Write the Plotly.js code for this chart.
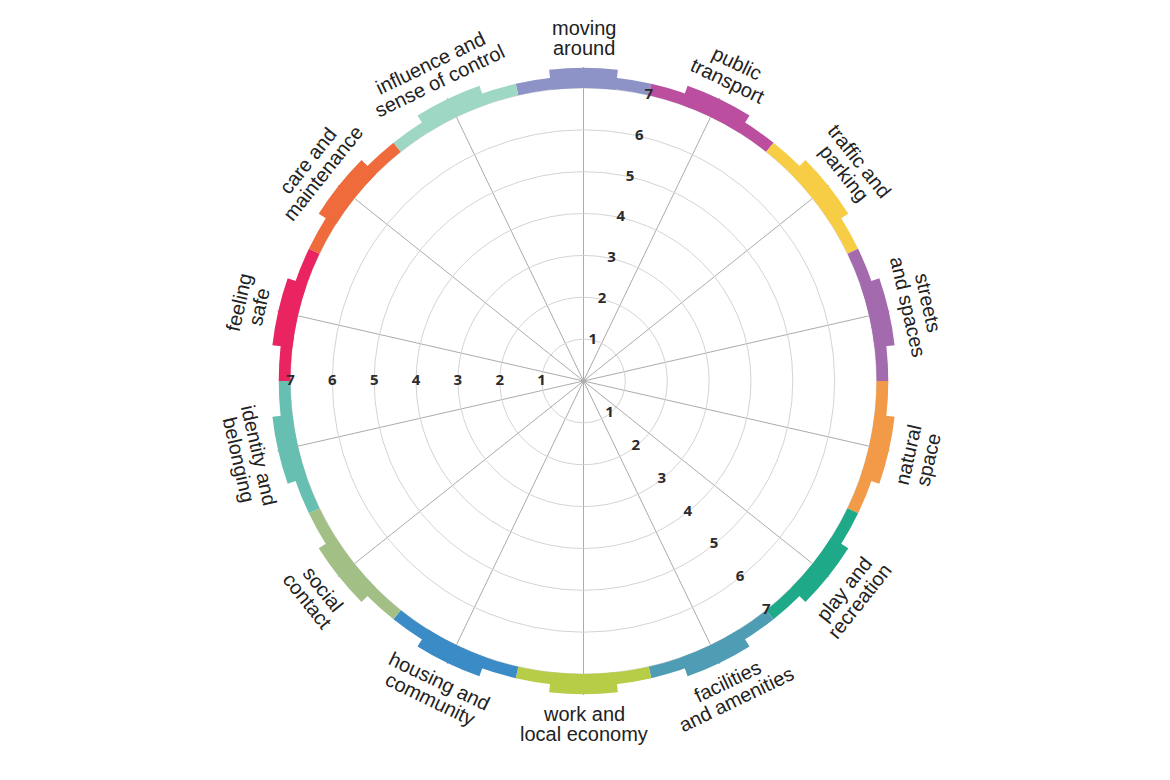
<!DOCTYPE html>
<html>
<head>
<meta charset="utf-8">
<script src="https://cdn.plot.ly/plotly-3.0.1.min.js"></script>
<style>html,body{margin:0;padding:0;background:#fff;}#chart{width:1170px;height:780px;}</style>
</head>
<body>
<div id="chart"></div>
<script>
// ---- data ----
const categories = [
  "moving around", "public transport", "traffic and parking", "streets and spaces",
  "natural space", "play and recreation", "facilities and amenities", "work and local economy",
  "housing and community", "social contact", "identity and belonging", "feeling safe",
  "care and maintenance", "influence and sense of control"
];
const labelLines = [
  ["moving", "around"], ["public", "transport"], ["traffic and", "parking"], ["streets", "and spaces"],
  ["natural", "space"], ["play and", "recreation"], ["facilities", "and amenities"], ["work and", "local economy"],
  ["housing and", "community"], ["social", "contact"], ["identity and", "belonging"], ["feeling", "safe"],
  ["care and", "maintenance"], ["influence and", "sense of control"]
];
const colors = [
  "#8e93c7", "#bb4e9f", "#f8cd46", "#a46aae", "#f29a47", "#1eaa88", "#4e9db4",
  "#b8cd47", "#3b8bc7", "#a2bf85", "#66bfb0", "#e92461", "#ef6b3b", "#9ed8c5"
];
const radialTicks = [1, 2, 3, 4, 5, 6, 7];
const scaleMax = 7;

// ---- geometry / style ----
const W = 1170, H = 780;
const CX = 583.5, CY = 381, RPX = 314;   // polar centre and radius (px) for range max
const RMAX = 7.5;
const n = categories.length;
const step = 360 / n;
const thetaCenters = categories.map((_, i) => i * step);
const tickThetas = [step / 2, 270, 5.5 * step];   // boundaries carrying radial tick labels

const traces = [];
// thin ring band
traces.push({
  type: "barpolar", theta: thetaCenters, r: categories.map(() => 0.28), base: scaleMax,
  width: categories.map(() => step), marker: {color: colors, line: {width: 0}},
  hoverinfo: "skip", showlegend: false
});
// raised tab in each sector
traces.push({
  type: "barpolar", theta: thetaCenters, r: categories.map(() => 0.48), base: scaleMax,
  width: categories.map(() => step * 0.49), marker: {color: colors, line: {width: 0}},
  hoverinfo: "skip", showlegend: false
});
// radial tick labels
tickThetas.forEach(t => {
  traces.push({
    type: "scatterpolar", mode: "text", theta: radialTicks.map(() => t), r: radialTicks,
    text: radialTicks.map(String),
    textfont: {family: "Open Sans", size: 15, color: "#2b2b2b", weight: 700},
    hoverinfo: "skip", showlegend: false, cliponaxis: false
  });
});

// category labels, rotated tangentially
const annotations = [];
const LR = 343, LH = 20, FS = 20;
categories.forEach((c, i) => {
  const a = 90 - thetaCenters[i];             // math angle, degrees
  const ar = a * Math.PI / 180;
  const s = Math.sin(ar);
  let ta;
  if (s > 1e-6) ta = 90 - a; else ta = -(90 + a);
  if (Math.abs(s) < 1e-6) ta = 0;
  const bx = CX + LR * Math.cos(ar), by = CY - LR * Math.sin(ar);
  const t = ta * Math.PI / 180;
  const dx = -Math.sin(t), dy = Math.cos(t);   // screen "down" vector of rotated text
  const lines = labelLines[i];
  lines.forEach((ln, k) => {
    const off = (k - (lines.length - 1) / 2) * LH;
    const px = bx + dx * off, py = by + dy * off;
    annotations.push({
      xref: "paper", yref: "paper", x: px / W, y: 1 - py / H,
      xanchor: "center", yanchor: "middle", showarrow: false,
      text: ln, textangle: ta,
      font: {family: "Liberation Sans, Arial, sans-serif", size: FS, color: "#222"}
    });
  });
});

const layout = {
  width: W, height: H, margin: {l: 0, r: 0, t: 0, b: 0},
  paper_bgcolor: "#fff", showlegend: false,
  polar: {
    domain: {x: [(CX - RPX) / W, (CX + RPX) / W], y: [1 - (CY + RPX) / H, 1 - (CY - RPX) / H]},
    bgcolor: "#fff",
    barmode: "overlay",
    radialaxis: {range: [0, RMAX], tickvals: radialTicks, showticklabels: false, ticks: "",
      showline: false, gridcolor: "#d4d4d4", gridwidth: 1},
    angularaxis: {type: "linear", thetaunit: "degrees", rotation: 90, direction: "clockwise",
      tickmode: "array", tickvals: thetaCenters, showticklabels: false, ticks: "",
      showline: false, gridcolor: "#ababab", gridwidth: 1}
  },
  annotations: annotations
};

Plotly.newPlot("chart", traces, layout, {displayModeBar: false, staticPlot: true});
</script>
</body>
</html>
